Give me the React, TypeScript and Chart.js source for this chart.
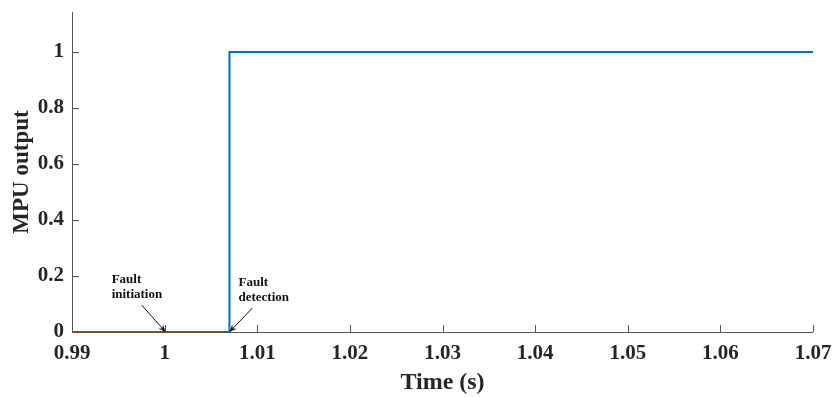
import React, { useEffect, useRef } from "react";
import { Chart, registerables } from "chart.js";

Chart.register(...registerables);

// Step response of the MPU trip signal
const timeValues = [0.99, 1.007, 1.007, 1.07];
const mpuOutput = [0, 0, 1, 1];
const xTicks = [0.99, 1.0, 1.01, 1.02, 1.03, 1.04, 1.05, 1.06, 1.07];
const yTicks = [0, 0.2, 0.4, 0.6, 0.8, 1];
const faultInitiationTime = 1.0;
const faultDetectionTime = 1.007;

const SERIF = "'Liberation Serif', 'Times New Roman', serif";
const AXIS_COLOR = "#555555";

function drawArrow(ctx: CanvasRenderingContext2D, x0: number, y0: number, x1: number, y1: number) {
  const ang = Math.atan2(y1 - y0, x1 - x0);
  const head = 8;
  ctx.beginPath();
  ctx.moveTo(x0, y0);
  ctx.lineTo(x1 - 4 * Math.cos(ang), y1 - 4 * Math.sin(ang));
  ctx.stroke();
  ctx.beginPath();
  ctx.moveTo(x1, y1);
  ctx.lineTo(x1 - head * Math.cos(ang - 0.4), y1 - head * Math.sin(ang - 0.4));
  ctx.lineTo(x1 - head * 0.6 * Math.cos(ang), y1 - head * 0.6 * Math.sin(ang));
  ctx.lineTo(x1 - head * Math.cos(ang + 0.4), y1 - head * Math.sin(ang + 0.4));
  ctx.closePath();
  ctx.fill();
}

// Inward ticks, axis lines and the fault annotations
const decorPlugin = {
  id: "decor",
  afterDraw(chart: any) {
    const { ctx, chartArea, scales } = chart;
    const xs = scales.x;
    const ys = scales.y;
    ctx.save();
    ctx.strokeStyle = AXIS_COLOR;
    ctx.lineWidth = 1;
    ctx.beginPath();
    ctx.moveTo(chartArea.left + 0.5, chartArea.top);
    ctx.lineTo(chartArea.left + 0.5, chartArea.bottom + 0.5);
    ctx.lineTo(chartArea.right, chartArea.bottom + 0.5);
    for (const t of xTicks) {
      const px = Math.round(xs.getPixelForValue(t)) + 0.5;
      ctx.moveTo(px, chartArea.bottom);
      ctx.lineTo(px, chartArea.bottom - 7);
    }
    for (const t of yTicks) {
      const py = Math.round(ys.getPixelForValue(t)) + 0.5;
      ctx.moveTo(chartArea.left, py);
      ctx.lineTo(chartArea.left + 7, py);
    }
    ctx.stroke();

    // Annotations
    ctx.fillStyle = "#111111";
    ctx.font = `bold 13px ${SERIF}`;
    ctx.textBaseline = "middle";
    ctx.textAlign = "left";
    const y0 = ys.getPixelForValue(0);
    const xi = xs.getPixelForValue(faultInitiationTime);
    const xd = xs.getPixelForValue(faultDetectionTime);
    ctx.fillText("Fault", xi - 53, y0 - 52);
    ctx.fillText("initiation", xi - 53, y0 - 37);
    ctx.fillText("Fault", xd + 9, y0 - 49);
    ctx.fillText("detection", xd + 9, y0 - 34);
    ctx.strokeStyle = "#111111";
    ctx.lineWidth = 1;
    drawArrow(ctx, xi - 23, y0 - 27, xi + 1, y0);
    drawArrow(ctx, xd + 23, y0 - 24, xd, y0);
    ctx.restore();
  },
};

export default function App() {
  const canvasRef = useRef<HTMLCanvasElement | null>(null);

  useEffect(() => {
    if (!canvasRef.current) return;
    const chart = new Chart(canvasRef.current, {
      type: "scatter",
      data: {
        datasets: [
          {
            data: timeValues.map((t, i) => ({ x: t, y: mpuOutput[i] })),
            showLine: true,
            borderColor: "#0072BD",
            borderWidth: 2,
            pointRadius: 0,
            fill: false,
          },
        ],
      },
      options: {
        animation: false,
        responsive: false,
        maintainAspectRatio: false,
        layout: { padding: { top: 12, right: 22, left: 8, bottom: 0 } },
        plugins: { legend: { display: false }, tooltip: { enabled: false } },
        scales: {
          x: {
            type: "linear",
            min: 0.99,
            max: 1.07,
            grid: { display: false, drawTicks: false },
            border: { display: false },
            afterBuildTicks: (s: any) => {
              s.ticks = xTicks.map((v) => ({ value: v }));
            },
            afterFit: (s: any) => {
              s.height = 65;
              s.paddingLeft = 0;
              s.paddingRight = 0;
            },
            ticks: {
              padding: 9,
              color: "#262626",
              font: { family: SERIF, size: 21, weight: "bold" },
              maxRotation: 0,
              autoSkip: false,
              callback: (v: any) => String(Number(Number(v).toFixed(2))),
            },
            title: {
              display: true,
              text: "Time (s)",
              color: "#262626",
              font: { family: SERIF, size: 24, weight: "bold" },
              padding: { top: 0, bottom: 0 },
            },
          },
          y: {
            type: "linear",
            min: 0,
            max: 1.143,
            grid: { display: false, drawTicks: false },
            border: { display: false },
            afterBuildTicks: (s: any) => {
              s.ticks = yTicks.map((v) => ({ value: v }));
            },
            afterFit: (s: any) => {
              s.width = 64;
              s.paddingTop = 0;
              s.paddingBottom = 0;
            },
            ticks: {
              padding: 8,
              color: "#262626",
              font: { family: SERIF, size: 21, weight: "bold" },
              callback: (v: any) => String(Number(Number(v).toFixed(1))),
            },
            title: {
              display: true,
              text: "MPU output",
              color: "#262626",
              font: { family: SERIF, size: 23, weight: "bold" },
              padding: { top: 0, bottom: 0 },
            },
          },
        },
      },
      plugins: [decorPlugin],
    } as any);
    return () => chart.destroy();
  }, []);

  return (
    <div style={{ position: "fixed", left: 0, top: 0, width: 835, height: 397, background: "#fff" }}>
      <canvas ref={canvasRef} width={835} height={397} style={{ width: 835, height: 397 }} />
    </div>
  );
}
